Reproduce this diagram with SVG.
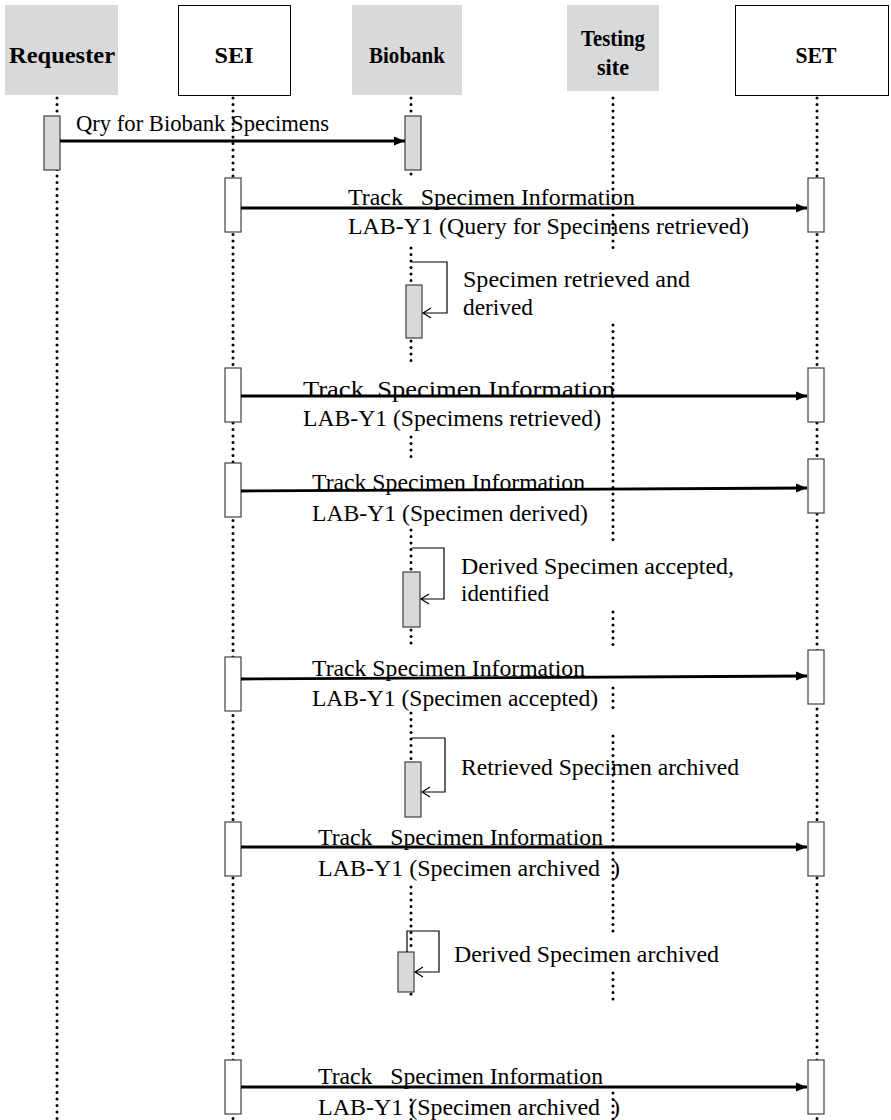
<svg xmlns="http://www.w3.org/2000/svg" width="891" height="1120" viewBox="0 0 891 1120">
<defs>
<style>
.hdr{font-family:"Liberation Serif","Times New Roman",serif;font-weight:bold;font-size:24px;fill:#000;text-anchor:middle}
.gbox{fill:#d9d9d9;stroke:none}
.wbox{fill:#fff;stroke:#000;stroke-width:1}
.life{stroke:#000;stroke-width:3;stroke-linecap:round;stroke-dasharray:0 6.5;fill:none}
.actg{fill:#d9d9d9;stroke:#404040;stroke-width:1.2}
.actw{fill:#fff;stroke:#404040;stroke-width:1.2}
.msg{stroke:#000;stroke-width:2.8;fill:none}
.self{stroke:#000;stroke-width:1.2;fill:none}
.lbl{font-family:"Liberation Serif","Times New Roman",serif;font-size:23.5px;fill:#000}
</style>
<marker id="ah" markerUnits="userSpaceOnUse" markerWidth="12" markerHeight="10" refX="11" refY="5" orient="auto">
<path d="M0,0.5 L11,5 L0,9.5 z" fill="#000"/>
</marker>
</defs>
<rect width="891" height="1120" fill="#fff"/>

<g id="lifelines">
<line class="life" x1="57" y1="98" x2="57" y2="1120"/>
<line class="life" x1="233" y1="98" x2="233" y2="1120"/>
<line class="life" x1="817" y1="98" x2="817" y2="1120"/>
<path class="life" d="M411,98V116 M411,174V176 M411,248V285 M411,341V366 M411,437V460 M411,530V572 M411,630V648 M411,713V762 M411,887V952 M411,994V998 M411,1100V1120"/>
<path class="life" d="M613,98V253 M613,325V540 M613,612V648 M613,688V708 M613,736V932 M613,973V1003 M613,1093V1120"/>
</g>

<g id="node-requester">
<rect class="gbox" x="5" y="5" width="113" height="90"/>
<text class="hdr" x="62" y="63" textLength="106" lengthAdjust="spacingAndGlyphs">Requester</text>
</g>
<g id="node-sei">
<rect class="wbox" x="178.5" y="5.5" width="112" height="90"/>
<text class="hdr" x="234" y="63" textLength="39" lengthAdjust="spacingAndGlyphs">SEI</text>
</g>
<g id="node-biobank">
<rect class="gbox" x="352" y="5" width="110" height="90"/>
<text class="hdr" x="407" y="63" textLength="76" lengthAdjust="spacingAndGlyphs">Biobank</text>
</g>
<g id="node-testing">
<rect class="gbox" x="567" y="5" width="92" height="86"/>
<text class="hdr" x="613" y="46" textLength="64" lengthAdjust="spacingAndGlyphs">Testing</text>
<text class="hdr" x="613" y="75" textLength="32" lengthAdjust="spacingAndGlyphs">site</text>
</g>
<g id="node-set">
<rect class="wbox" x="735.5" y="5.5" width="153" height="90"/>
<text class="hdr" x="816" y="63" textLength="41" lengthAdjust="spacingAndGlyphs">SET</text>
</g>

<g id="activations">
<rect class="actg" x="44" y="116" width="16" height="54"/>
<rect class="actg" x="405" y="116" width="16" height="54"/>
<rect class="actw" x="225" y="178" width="16" height="54"/>
<rect class="actw" x="808" y="178" width="16" height="54"/>
<rect class="actg" x="406" y="285" width="16" height="53"/>
<rect class="actw" x="225" y="368" width="16" height="54"/>
<rect class="actw" x="808" y="368" width="16" height="54"/>
<rect class="actw" x="225" y="463" width="16" height="54"/>
<rect class="actw" x="808" y="459" width="16" height="54"/>
<rect class="actg" x="403" y="572" width="17" height="55"/>
<rect class="actw" x="225" y="657" width="16" height="54"/>
<rect class="actw" x="808" y="650" width="16" height="54"/>
<rect class="actg" x="405" y="762" width="16" height="55"/>
<rect class="actw" x="225" y="822" width="16" height="54"/>
<rect class="actw" x="808" y="822" width="16" height="54"/>
<rect class="actg" x="398" y="952" width="16" height="40"/>
<rect class="actw" x="225" y="1060" width="16" height="54"/>
<rect class="actw" x="808" y="1060" width="16" height="54"/>
</g>

<g id="connectors">
<line class="msg" x1="60" y1="141" x2="405" y2="141" marker-end="url(#ah)"/>
<line class="msg" x1="241" y1="208" x2="807" y2="208" marker-end="url(#ah)"/>
<line class="msg" x1="241" y1="396" x2="807" y2="396" marker-end="url(#ah)"/>
<line class="msg" x1="241" y1="491" x2="807" y2="488" marker-end="url(#ah)"/>
<line class="msg" x1="241" y1="679" x2="807" y2="676" marker-end="url(#ah)"/>
<line class="msg" x1="241" y1="847" x2="807" y2="847" marker-end="url(#ah)"/>
<line class="msg" x1="241" y1="1087" x2="807" y2="1087" marker-end="url(#ah)"/>
<path class="self" d="M412,262H447V313H423 M431,308L423,313L431,318"/>
<path class="self" d="M412,548H444V599H421 M429,594L421,599L429,604"/>
<path class="self" d="M412,738H445V792H422 M430,787L422,792L430,797"/>
<path class="self" d="M407,952V931H439V972H415 M423,967L415,972L423,977"/>
</g>

<g id="labels">
<text class="lbl" x="76" y="131" textLength="253" lengthAdjust="spacingAndGlyphs">Qry for Biobank Specimens</text>
<text class="lbl" x="348" y="205" textLength="287" lengthAdjust="spacingAndGlyphs" xml:space="preserve">Track   Specimen Information</text>
<text class="lbl" x="348" y="234" textLength="401" lengthAdjust="spacingAndGlyphs">LAB-Y1 (Query for Specimens retrieved)</text>
<text class="lbl" x="463" y="287" textLength="227" lengthAdjust="spacingAndGlyphs">Specimen retrieved and</text>
<text class="lbl" x="463" y="315" textLength="70" lengthAdjust="spacingAndGlyphs">derived</text>
<text class="lbl" x="303" y="397" textLength="312" lengthAdjust="spacingAndGlyphs" xml:space="preserve">Track  Specimen Information</text>
<text class="lbl" x="303" y="426" textLength="298" lengthAdjust="spacingAndGlyphs">LAB-Y1 (Specimens retrieved)</text>
<text class="lbl" x="312" y="490" textLength="273" lengthAdjust="spacingAndGlyphs">Track Specimen Information</text>
<text class="lbl" x="312" y="521" textLength="276" lengthAdjust="spacingAndGlyphs">LAB-Y1 (Specimen derived)</text>
<text class="lbl" x="461" y="574" textLength="273" lengthAdjust="spacingAndGlyphs">Derived Specimen accepted,</text>
<text class="lbl" x="461" y="601" textLength="88" lengthAdjust="spacingAndGlyphs">identified</text>
<text class="lbl" x="312" y="676" textLength="273" lengthAdjust="spacingAndGlyphs">Track Specimen Information</text>
<text class="lbl" x="312" y="706" textLength="286" lengthAdjust="spacingAndGlyphs">LAB-Y1 (Specimen accepted)</text>
<text class="lbl" x="461" y="775" textLength="278" lengthAdjust="spacingAndGlyphs">Retrieved Specimen archived</text>
<text class="lbl" x="318" y="845" textLength="285" lengthAdjust="spacingAndGlyphs" xml:space="preserve">Track   Specimen Information</text>
<text class="lbl" x="318" y="876" textLength="302" lengthAdjust="spacingAndGlyphs" xml:space="preserve">LAB-Y1 (Specimen archived  )</text>
<text class="lbl" x="454" y="962" textLength="265" lengthAdjust="spacingAndGlyphs">Derived Specimen archived</text>
<text class="lbl" x="318" y="1084" textLength="285" lengthAdjust="spacingAndGlyphs" xml:space="preserve">Track   Specimen Information</text>
<text class="lbl" x="318" y="1115" textLength="302" lengthAdjust="spacingAndGlyphs" xml:space="preserve">LAB-Y1 (Specimen archived  )</text>
</g>
</svg>
